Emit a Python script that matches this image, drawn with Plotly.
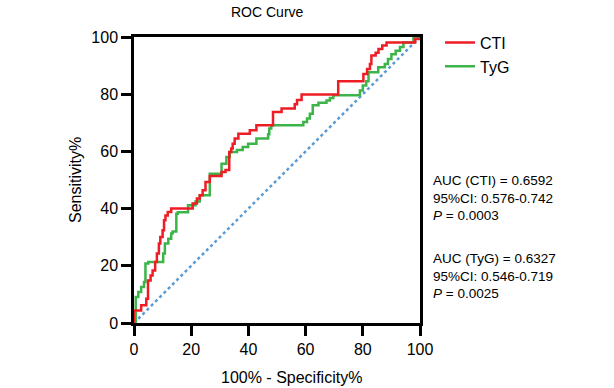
import plotly.graph_objects as go

# ROC points (100% - Specificity%, Sensitivity%)
cti_fpr = [0, 0, 2.5, 4.3, 4.9, 5.8, 6.5, 7.4, 8.0, 8.7, 9.2, 10.0, 10.5, 11.0, 11.8, 13.0,
           20.5, 22.0, 23.0, 24.0, 25.0, 26.5, 30.6, 32.0, 33.3, 34.0, 34.5, 35.2, 36.5,
           40.5, 42.8, 48.6, 51.6, 56.2, 57.0, 58.6, 71.4, 80.2, 81.5, 82.5, 83.0, 84.5,
           85.5, 86.8, 88.3, 98.3, 100]
cti_tpr = [0, 4.4, 6.2, 8.5, 14.9, 16.6, 18.4, 21.3, 24.3, 27.8, 30.1, 32.4, 35.9, 37.6, 38.8, 40.0,
           41.8, 43.5, 44.7, 46.4, 49.3, 51.4, 52.8, 53.5, 59.8, 61.0, 62.7, 64.5, 66.2,
           67.4, 69.1, 73.8, 75.0, 76.5, 78.0, 79.9, 84.5, 87.1, 88.8, 90.6, 93.5, 94.5,
           95.8, 97.0, 98.1, 99.3, 100]

tyg_fpr = [0, 0.6, 1.5, 2.5, 3.5, 4.0, 5.0, 10.2, 10.8, 12.0, 13.0, 13.5, 14.8, 15.3, 18.9,
           21.5, 23.0, 26.5, 30.6, 32.3, 33.5, 36.0, 38.0, 39.9, 42.8, 46.9, 47.3, 48.0,
           59.2, 60.5, 61.5, 62.5, 64.5, 67.3, 68.5, 69.7, 79.0, 80.0, 81.2, 82.0, 85.4,
           87.7, 88.8, 90.0, 91.5, 93.0, 94.2, 97.7, 100]
tyg_tpr = [0, 9.1, 10.8, 12.6, 14.3, 20.8, 21.3, 24.3, 27.8, 29.5, 31.3, 32.0, 38.2, 38.7, 41.2,
           42.5, 44.7, 52.2, 55.7, 58.0, 59.8, 60.5, 61.5, 62.7, 64.5, 66.0, 68.0, 69.1,
           70.3, 71.5, 73.2, 76.1, 77.0, 77.8, 78.7, 79.6, 81.3, 83.0, 84.5, 87.7, 89.4,
           90.6, 92.3, 94.0, 95.2, 96.5, 98.1, 100, 100]

ref_line = [0, 100]
ticks = [0, 20, 40, 60, 80, 100]

stats_cti = ["AUC (CTI) = 0.6592", "95%CI: 0.576-0.742", "<i>P</i> = 0.0003"]
stats_tyg = ["AUC (TyG) = 0.6327", "95%CI: 0.546-0.719", "<i>P</i> = 0.0025"]

FONT = "Liberation Sans, Arial, sans-serif"

fig = go.Figure()
fig.add_trace(go.Scatter(x=ref_line, y=ref_line, mode="lines",
                         line=dict(color="#5b9bd5", width=2.5, dash="dot"),
                         showlegend=False, hoverinfo="skip"))
fig.add_trace(go.Scatter(x=tyg_fpr, y=tyg_tpr, mode="lines", name="TyG",
                         line=dict(color="#3cb44a", width=2.5, shape="hv")))
fig.add_trace(go.Scatter(x=cti_fpr, y=cti_tpr, mode="lines", name="CTI",
                         line=dict(color="#ee1c25", width=2.5, shape="hv")))

axis_common = dict(range=[0, 100], tickvals=ticks, showgrid=False, zeroline=False,
                   showline=True, linecolor="black", linewidth=2.5, mirror=True,
                   ticks="outside", ticklen=10, tickwidth=2.5, tickcolor="black",
                   tickfont=dict(family=FONT, size=16, color="black"))
fig.update_xaxes(**axis_common)
fig.update_yaxes(**axis_common)

fig.update_layout(
    width=614, height=388,
    margin=dict(l=134, r=194, t=37, b=65),
    plot_bgcolor="white", paper_bgcolor="white",
    font=dict(family=FONT, color="black"),
    showlegend=True,
    legend=dict(x=1.07, y=1.04, xanchor="left", yanchor="top", traceorder="reversed",
                font=dict(family=FONT, size=16, color="black"),
                bgcolor="rgba(0,0,0,0)", tracegroupgap=0, itemwidth=30),
)

# Titles as positioned annotations (pixel -> paper conversion)
pw, ph = 614 - 134 - 194, 388 - 37 - 65
def px2paper(px, py):
    return (px - 134) / pw, (388 - 65 - py) / ph

anns = []
tx, ty = px2paper(267, 12)
anns.append(dict(text="ROC Curve", x=tx, y=ty, xref="paper", yref="paper", showarrow=False,
                 font=dict(family=FONT, size=14, color="black"), xanchor="center", yanchor="middle"))
tx, ty = px2paper(291, 377)
anns.append(dict(text="100% - Specificity%", x=tx, y=ty, xref="paper", yref="paper", showarrow=False,
                 font=dict(family=FONT, size=16, color="black"), xanchor="center", yanchor="middle"))
tx, ty = px2paper(75, 180)
anns.append(dict(text="Sensitivity%", x=tx, y=ty, xref="paper", yref="paper", showarrow=False,
                 textangle=-90, font=dict(family=FONT, size=16, color="black"),
                 xanchor="center", yanchor="middle"))
tx, ty = px2paper(431, 198)
anns.append(dict(text="<br>".join(stats_cti), x=tx, y=ty, xref="paper", yref="paper", showarrow=False,
                 align="left", xanchor="left", yanchor="middle",
                 font=dict(family=FONT, size=13.5, color="black")))
tx, ty = px2paper(431, 276)
anns.append(dict(text="<br>".join(stats_tyg), x=tx, y=ty, xref="paper", yref="paper", showarrow=False,
                 align="left", xanchor="left", yanchor="middle",
                 font=dict(family=FONT, size=13.5, color="black")))
fig.update_layout(annotations=anns)

fig.write_html("out.html", config={"displayModeBar": False},
               post_script="document.body.style.margin='0';document.body.style.overflow='hidden';")
